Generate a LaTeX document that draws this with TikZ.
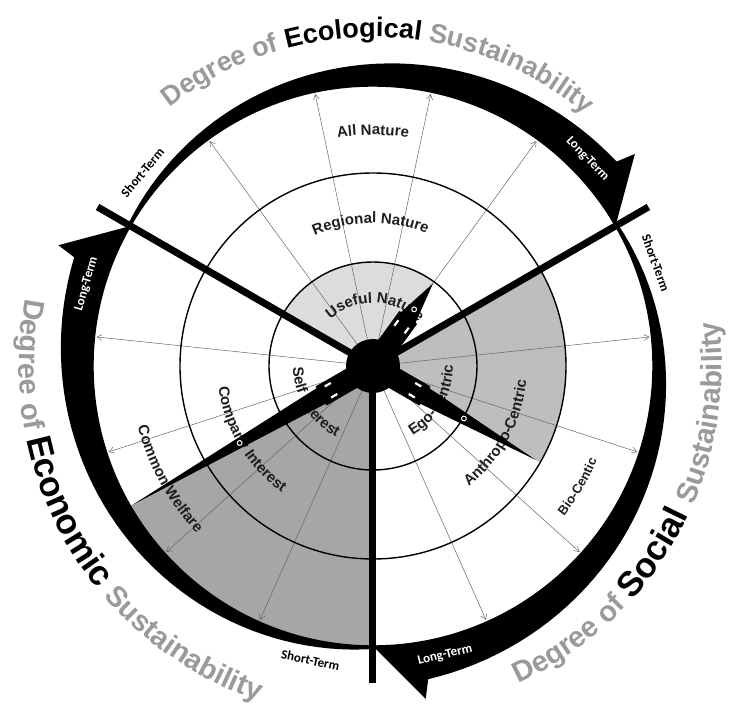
\documentclass[tikz,border=0pt]{standalone}
\usepackage{fontspec}
\setmainfont{Liberation Sans}
\newfontfamily\termfont{Carlito}
\definecolor{PaleGrey}{HTML}{DCDCDE}
\definecolor{MidGrey}{HTML}{BEBEBE}
\definecolor{DeepGrey}{HTML}{A6A6A8}
\definecolor{TitleGrey}{HTML}{9A9A9A}
\definecolor{InkGrey}{HTML}{1E1E1E}
\usetikzlibrary{arrows.meta, decorations.text}

\newcommand{\ringfont}{\fontsize{15}{15}\selectfont\bfseries\color{InkGrey}}
\newcommand{\titlefont}{\fontsize{27}{27}\selectfont\bfseries}
\newcommand{\sidefont}{\fontsize{29}{29}\selectfont\bfseries}
\newcommand{\keyfont}{\fontsize{35}{35}\selectfont\bfseries}
\newcommand{\clockhand}[3]{% angle, length, position of the ring mark
  \begin{scope}[rotate=#1]
    \fill (0,-10) -- (26,-11) -- (60,-11) -- (60,-9) -- (#2,0)
      -- (60,9) -- (60,11) -- (26,11) -- (0,10) -- cycle;
    \fill[white] (45,-7.5) rectangle (52,-5.3);
    \fill[white] (45,5.3) rectangle (52,7.5);
    \draw[white, line width=1pt] (#3,0) circle[radius=2.4];
  \end{scope}}

\begin{document}
\begin{tikzpicture}[x=1pt, y=1pt,
  ray/.style={draw=black!60, line width=0.5pt,
              -{Straight Barb[length=5pt, width=6pt]}},
  ring/.style={line width=1.4pt},
  divider/.style={line width=7pt},
  term/.style={font=\termfont\fontsize{13}{13}\selectfont\bfseries,
               inner sep=0pt},
  curved/.style={decorate, decoration={text along path,
                 text align=center, text={#1}}}]

  \useasboundingbox (-373,-341) rectangle (358,366);

  % shaded sectors
  \fill[PaleGrey] (0,0) -- (54:104) arc[start angle=54, end angle=150, radius=104] -- cycle;
  \fill[MidGrey] (0,0) -- (-30:193) arc[start angle=-30, end angle=30, radius=193] -- cycle;
  \fill[DeepGrey] (0,0) -- (210:280) arc[start angle=210, end angle=270, radius=280] -- cycle;

  % rays
  \foreach \a in {6,54,78,102,126,174,198,222,246,294,318,342}
    \draw[ray] (\a:27) -- (\a:278);

  % rings
  \draw[ring] (0,0) circle[radius=104];
  \draw[ring] (0,0) circle[radius=193];
  \draw[ring] (0,0) circle[radius=280];

  % ring labels
  \path[curved={|\ringfont|All Nature}] (120:231) arc[start angle=120, end angle=60, radius=231];
  \path[curved={|\ringfont|Regional Nature}] (131:143) arc[start angle=131, end angle=51, radius=143];
  \path[curved={|\ringfont|Useful Nature}] (148:63) arc[start angle=148, end angle=28, radius=63];
  \path[curved={|\ringfont|Self Interest}] (157:80) arc[start angle=157, end angle=267, radius=80];
  \path[curved={|\ringfont|Company Interest}] (170:156) arc[start angle=170, end angle=252, radius=156];
  \path[curved={|\ringfont|Common Welfare}] (180:243) arc[start angle=180, end angle=238, radius=243];
  \path[curved={|\ringfont|Ego-Centric}] (-85:80) arc[start angle=-85, end angle=25, radius=80];
  \path[curved={|\ringfont|Anthropo-Centric}] (-72:154) arc[start angle=-72, end angle=15, radius=154];
  \path[curved={|\ringfont\fontsize{13}{13}\selectfont|Bio-Centic}] (-60:243) arc[start angle=-60, end angle=-1, radius=243];

  % dividers
  \draw[divider] (0,0) -- (150:318);
  \draw[divider] (0,0) -- (30:318);
  \draw[divider] (0,0) -- (270:317);

  % hands
  \clockhand{54}{102}{70}
  \clockhand{-30}{188}{105}
  \clockhand{210}{278}{154}
  \node[circle, fill=black, minimum size=54pt, inner sep=0pt] (hub) at (0,0) {};

  % time bands
  \fill (150:280) arc[start angle=150, end angle=30, radius=280] -- (39:337) -- (40:318)
    -- plot[domain=40:150, samples=50] (\x:{283+(150-\x)/110*35}) -- cycle;
  \fill (30:280) arc[start angle=30, end angle=-90, radius=280] -- (-81:337) -- (-80:318)
    -- plot[domain=-80:30, samples=50] (\x:{283+(30-\x)/110*35}) -- cycle;
  \fill (270:280) arc[start angle=270, end angle=150, radius=280] -- (159:337) -- (160:318)
    -- plot[domain=160:270, samples=50] (\x:{283+(270-\x)/110*35}) -- cycle;

  \node[term, rotate=50] (eco short) at (140:301) {Short-Term};
  \node[term, white, rotate=-46] (eco long) at (44:298) {Long-Term};
  \node[term, rotate=-70] (soc short) at (20:301) {Short-Term};
  \node[term, white, rotate=14] (soc long) at (-76:298) {Long-Term};
  \node[term, rotate=-12] (econ short) at (258:301) {Short-Term};
  \node[term, white, rotate=74] (econ long) at (164:298) {Long-Term};

  % titles
  \path[curved={|\titlefont\color{TitleGrey}|Degree of |\titlefont\color{black}|Ecological |\titlefont\color{TitleGrey}|Sustainability}]
    (150:329) arc[start angle=150, end angle=28, radius=329];
  \path[curved={|\sidefont\color{TitleGrey}|Degree of |\keyfont\color{black}|Economic |\sidefont\color{TitleGrey}|Sustainability}]
    (144:354) arc[start angle=144, end angle=276, radius=354];
  \path[curved={|\sidefont\color{TitleGrey}|Degree of |\keyfont\color{black}|Social |\sidefont\color{TitleGrey}|Sustainability}]
    (-94:349) arc[start angle=-94, end angle=36, radius=349];
\end{tikzpicture}
\end{document}
